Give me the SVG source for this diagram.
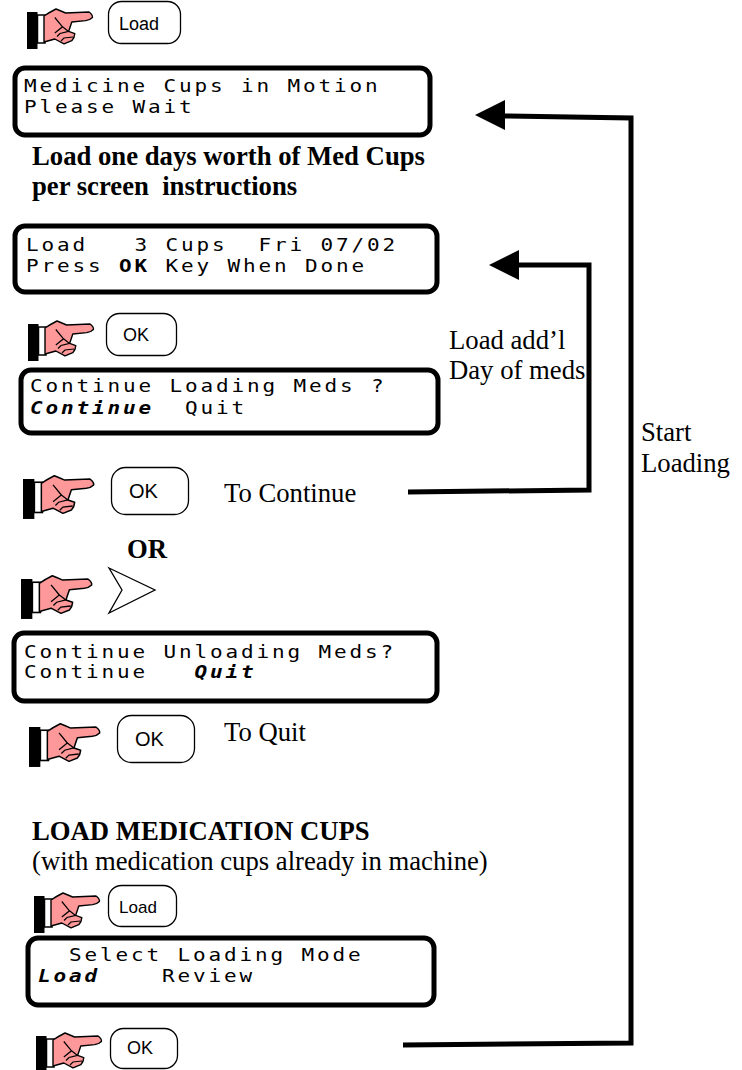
<svg xmlns="http://www.w3.org/2000/svg" width="742" height="1070" viewBox="0 0 742 1070">
<style>
.lcd{fill:#fff;stroke:#000;stroke-width:5}
.key{fill:#fff;stroke:#000;stroke-width:1.3}
.m{font-family:"DejaVu Sans Mono",monospace;font-size:17.5px;letter-spacing:2.39px;fill:#000;white-space:pre}
.b{font-weight:bold}
.i{font-weight:bold;font-style:italic}
.k{font-family:"Liberation Sans",Arial,sans-serif;fill:#000;text-anchor:middle}
.t{font-family:"Liberation Serif","Times New Roman",serif;font-size:26.7px;fill:#000}
.h{font-weight:bold}
.c{fill:none;stroke:#000;stroke-width:5}
</style>
<defs>
<g id="hand">
<rect x="0" y="0" width="10.500" height="37" fill="#000"/>
<rect x="10.500" y="3" width="7.500" height="28" fill="#fff" stroke="#000" stroke-width="1.5"/>
<path d="M17 4 Q23 0 29 -3 Q34 -1 38.600 1 L62 0 Q66 3 65.400 5.500 Q63 8 58.600 8.600 L44.800 10 L41.600 19.400 L47.800 21.600 Q47.500 26 44.800 28.700 L37 31.800 L27.800 27 L17 30 Z" fill="#ff9999" stroke="#000" stroke-width="1.4" stroke-linejoin="round"/>
<path d="M27.800 5.500 L35.500 14.800 L27.800 21 M41.600 19.400 L33 21.500 L30 24.500 M46 25 L37 26 L34 29 M35.500 14.800 L41.600 19.400" fill="none" stroke="#000" stroke-width="1.2"/>
</g>
</defs>
<g id="connectors">
<path class="c" d="M403 1045 L631 1043 L631 118 L505 116"/>
<path d="M475 115 L505 100 L505 130 Z" fill="#000"/>
<path class="c" d="M408 492 L589 490 L589 265 L518 265"/>
<path d="M489 265 L519 250 L519 280 Z" fill="#000"/>
</g>
<g id="hand1"><use href="#hand" x="27" y="12"/></g>
<g id="key-load1"><rect class="key" x="108.500" y="1.500" width="72" height="42" rx="13"/><text class="k" x="139" y="30" font-size="18">Load</text></g>
<g id="lcd1"><rect class="lcd" x="15" y="68" width="415" height="67" rx="10"/>
<text class="m" transform="translate(24 92) scale(1.2 1)">Medicine Cups in Motion</text><text class="m" transform="translate(24 113) scale(1.2 1)">Please Wait</text></g>
<g id="note1"><text class="t h" x="32" y="165">Load one days worth of Med Cups</text><text class="t h" x="32" y="195" xml:space="preserve">per screen  instructions</text></g>
<g id="lcd2"><rect class="lcd" x="15" y="226" width="422" height="66" rx="10"/>
<text class="m" transform="translate(26 251) scale(1.2 1)" xml:space="preserve">Load   3 Cups  Fri 07/02</text><text class="m" transform="translate(26 272) scale(1.2 1)" xml:space="preserve">Press <tspan class="b">OK</tspan> Key When Done</text></g>
<g id="hand2"><use href="#hand" x="28" y="324"/></g>
<g id="key-ok1"><rect class="key" x="106.500" y="313.500" width="70" height="42" rx="13"/><text class="k" x="136" y="341" font-size="18">OK</text></g>
<g id="lcd3"><rect class="lcd" x="21" y="370" width="417" height="63" rx="10"/>
<text class="m" transform="translate(30 392) scale(1.2 1)">Continue Loading Meds ?</text><text class="m" transform="translate(30 414) scale(1.2 1)" xml:space="preserve"><tspan class="i">Continue</tspan>  Quit</text></g>
<g id="hand3"><use href="#hand" transform="translate(23 479) scale(1.08)"/></g>
<g id="key-ok2"><rect class="key" x="111.500" y="467.500" width="77" height="47" rx="14"/><text class="k" x="143.500" y="498" font-size="20">OK</text></g>
<g id="label-continue"><text class="t" x="224" y="502">To Continue</text></g>
<g id="label-or"><text class="t h" x="127" y="558">OR</text></g>
<g id="hand4"><use href="#hand" transform="translate(21 579) scale(1.08)"/></g>
<g id="key-right"><path d="M109 568 L155 590 L109 613 L122 590 Z" fill="#fff" stroke="#000" stroke-width="1.3"/></g>
<g id="lcd4"><rect class="lcd" x="14" y="633" width="423" height="68" rx="10"/>
<text class="m" transform="translate(24 658) scale(1.2 1)">Continue Unloading Meds?</text><text class="m" transform="translate(24 678) scale(1.2 1)" xml:space="preserve">Continue   <tspan class="i">Quit</tspan></text></g>
<g id="hand5"><use href="#hand" transform="translate(29 727) scale(1.08)"/></g>
<g id="key-ok3"><rect class="key" x="117.500" y="715.500" width="77" height="47" rx="14"/><text class="k" x="149.500" y="746" font-size="20">OK</text></g>
<g id="label-quit"><text class="t" x="224" y="741">To Quit</text></g>
<g id="heading"><text class="t h" x="32" y="840">LOAD MEDICATION CUPS</text><text class="t" x="32" y="870">(with medication cups already in machine)</text></g>
<g id="hand6"><use href="#hand" x="34" y="896"/></g>
<g id="key-load2"><rect class="key" x="108.500" y="885.500" width="68" height="41" rx="13"/><text class="k" x="138" y="913" font-size="17">Load</text></g>
<g id="lcd5"><rect class="lcd" x="28" y="938" width="406" height="67" rx="10"/>
<text class="m" transform="translate(38 961) scale(1.2 1)" xml:space="preserve">  Select Loading Mode</text><text class="m" transform="translate(38 982) scale(1.2 1)" xml:space="preserve"><tspan class="i">Load</tspan>    Review</text></g>
<g id="hand7"><use href="#hand" x="36" y="1036"/></g>
<g id="key-ok4"><rect class="key" x="110.500" y="1028.500" width="67" height="40" rx="13"/><text class="k" x="140" y="1054" font-size="18">OK</text></g>
<g id="label-addl"><text class="t" x="449" y="349">Load add’l</text><text class="t" x="449" y="379">Day of meds</text></g>
<g id="label-start"><text class="t" x="641" y="441">Start</text><text class="t" x="641" y="472">Loading</text></g>
</svg>
